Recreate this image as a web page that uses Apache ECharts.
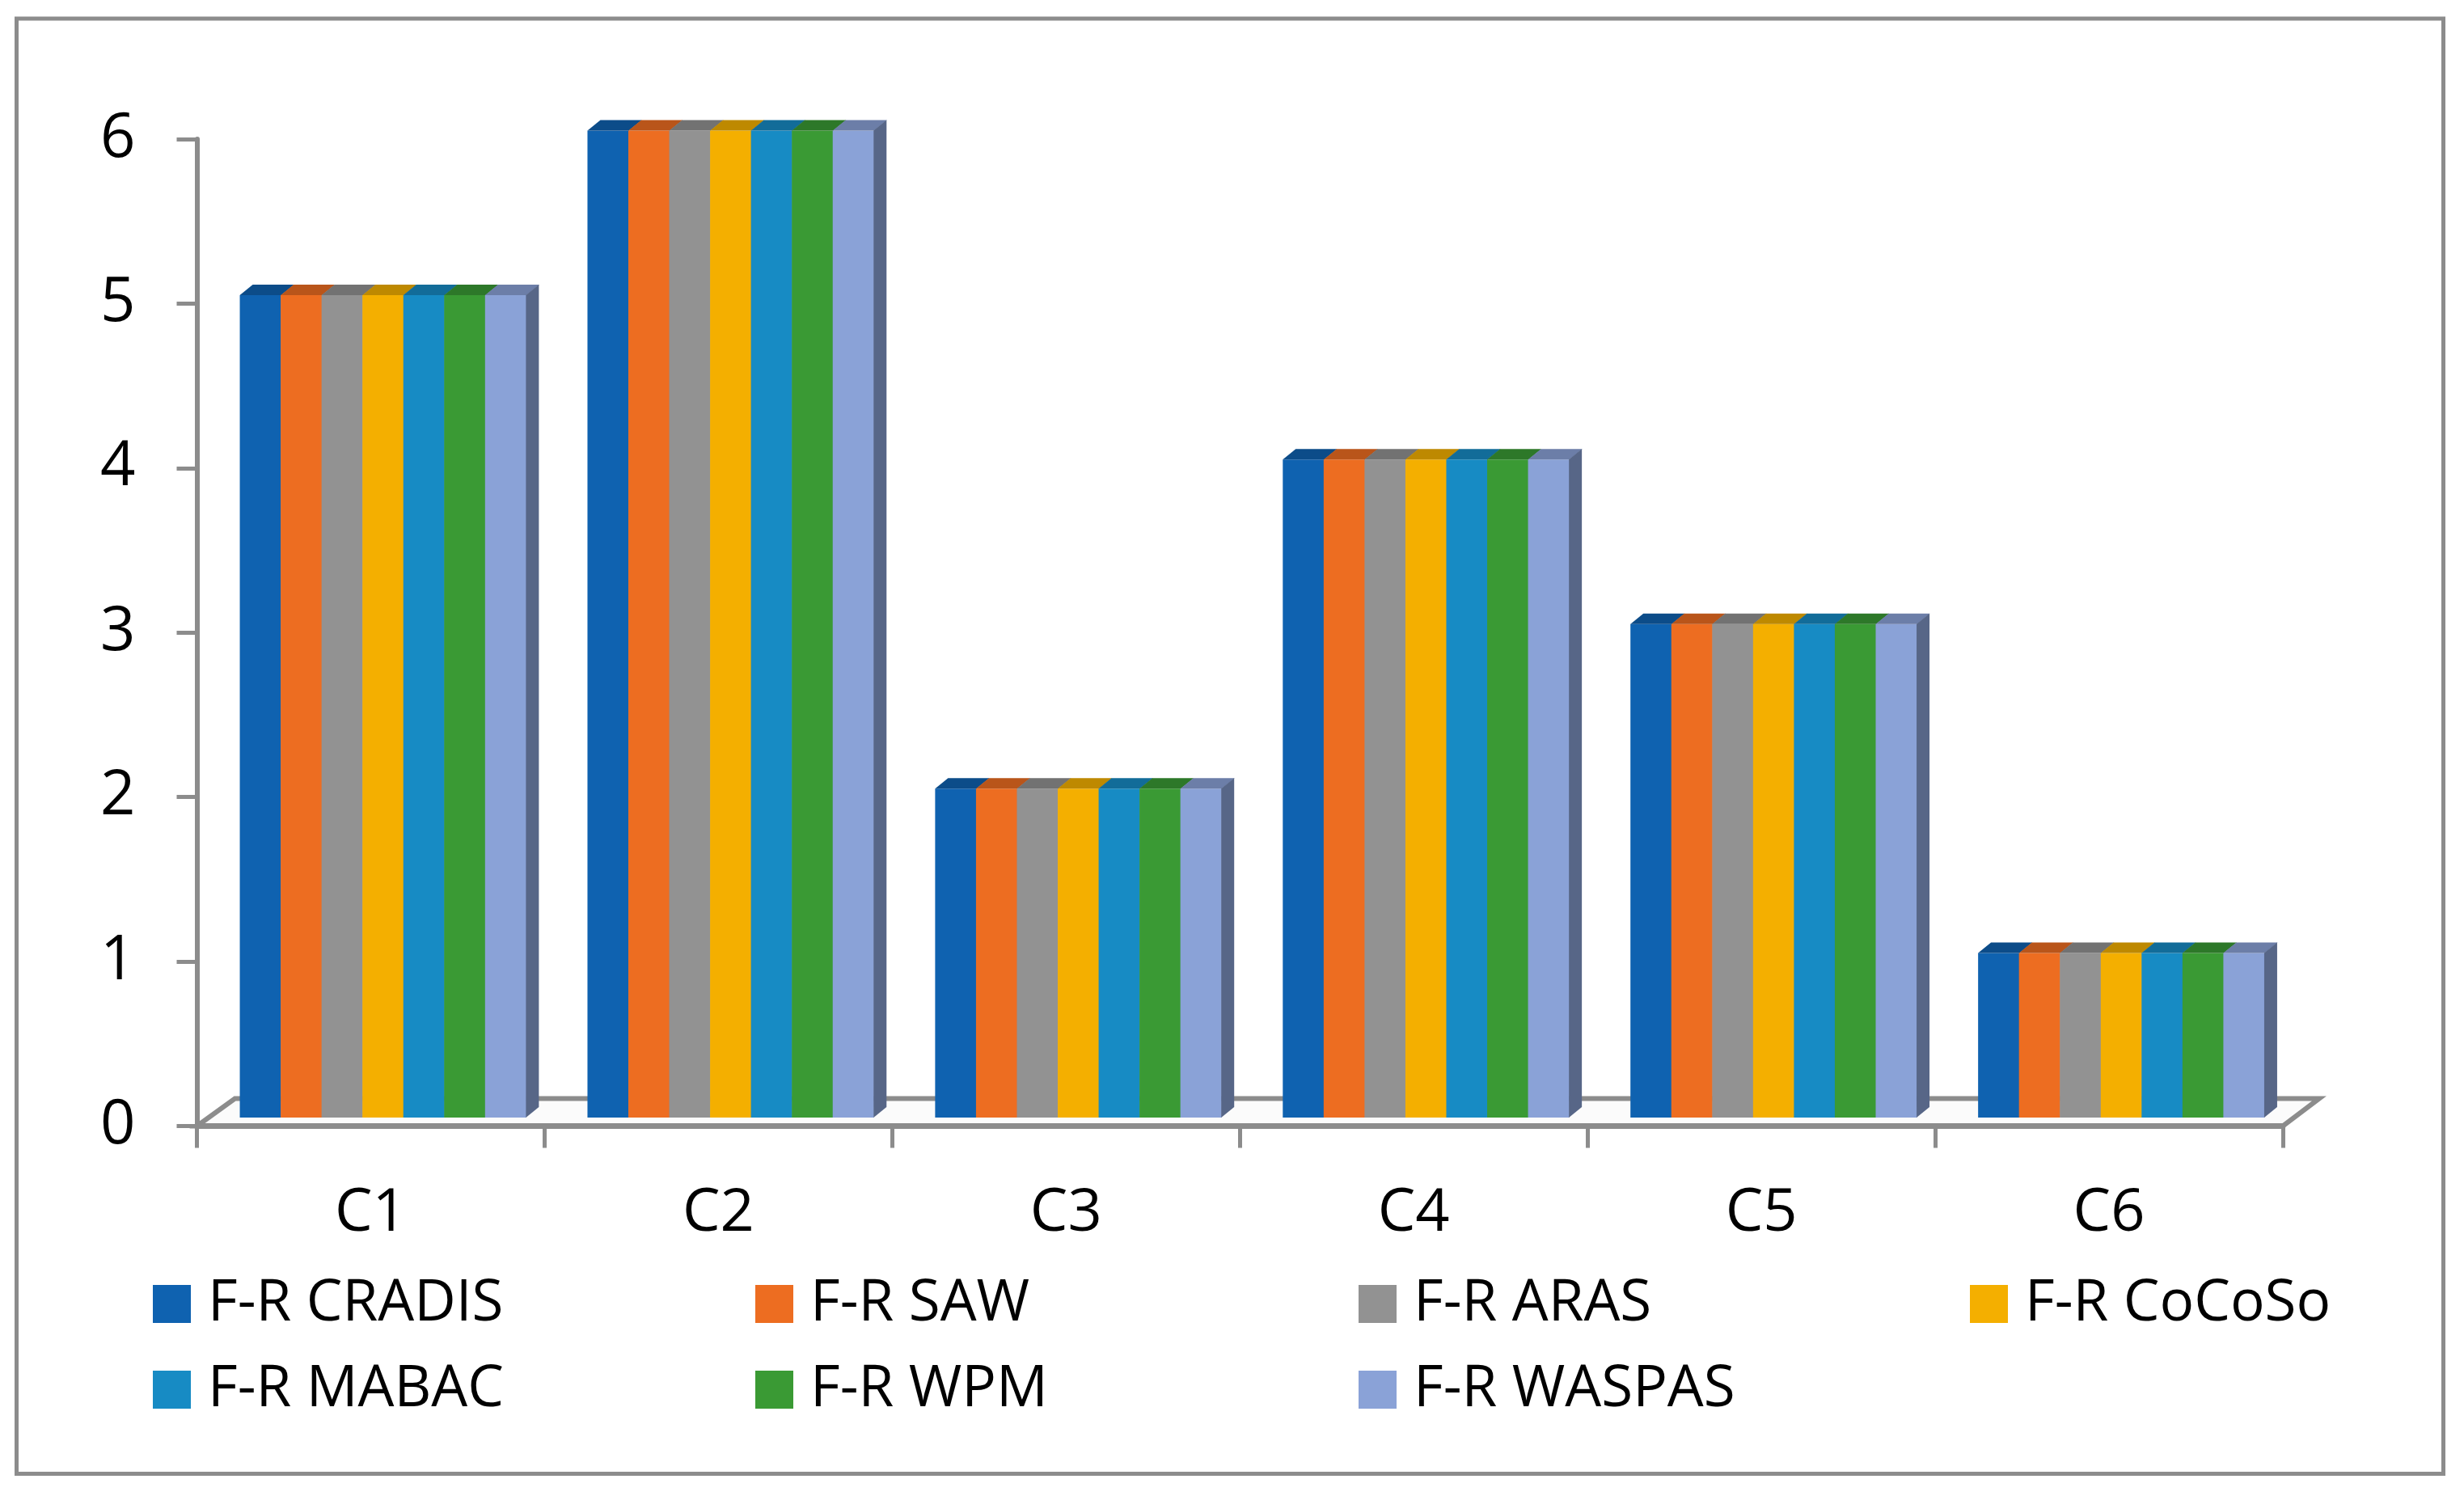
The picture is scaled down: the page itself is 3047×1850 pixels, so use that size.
<!DOCTYPE html>
<html>
<head>
<meta charset="utf-8">
<script src="https://cdn.jsdelivr.net/npm/echarts@6/dist/echarts.min.js"></script>
<style>
  html, body { margin: 0; padding: 0; background: #ffffff; }
  #chart { width: 3047px; height: 1850px; }
</style>
</head>
<body>
<div id="chart"></div>
<script>
// ---- data ----
const categories = ['C1', 'C2', 'C3', 'C4', 'C5', 'C6'];
const seriesNames = ['F-R CRADIS', 'F-R SAW', 'F-R ARAS', 'F-R CoCoSo', 'F-R MABAC', 'F-R WPM', 'F-R WASPAS'];
const cradis = [5, 6, 2, 4, 3, 1];
const saw    = [5, 6, 2, 4, 3, 1];
const aras   = [5, 6, 2, 4, 3, 1];
const cocoso = [5, 6, 2, 4, 3, 1];
const mabac  = [5, 6, 2, 4, 3, 1];
const wpm    = [5, 6, 2, 4, 3, 1];
const waspas = [5, 6, 2, 4, 3, 1];
const yTicks = [0, 1, 2, 3, 4, 5, 6];

const seriesValues = [cradis, saw, aras, cocoso, mabac, wpm, waspas];
const colors = ['#0F62B0', '#ED6D21', '#929292', '#F4AF00', '#178BC4', '#3A9A34', '#8AA2D7'];

// ---- styling constants ----
const AXIS_GRAY = '#8C8C8C';
const FONT = "'Open Sans', 'Noto Sans', sans-serif";
const GROUP_FRAC = 0.823;   // share of a category taken by the bar group
const FACE_DX = 15, FACE_DY = -10.5;  // front face shift (bars sit mid-depth)
const TOP_DX = 16, TOP_DY = -13;      // bar depth
const FLOOR_DX = 47, FLOOR_DY = -34;  // floor depth

function shade(hex, f) {
  const n = parseInt(hex.slice(1), 16);
  const r = Math.round(((n >> 16) & 255) * f);
  const g = Math.round(((n >> 8) & 255) * f);
  const b = Math.round((n & 255) * f);
  return 'rgb(' + r + ',' + g + ',' + b + ')';
}

function makeBarRender(sIdx, nSeries, color) {
  return function (params, api) {
    const ci = api.value(0);
    const base = api.coord([ci, 0]);
    const topPt = api.coord([ci, api.value(1)]);
    const catW = api.size([1, 0])[0];
    const groupW = catW * GROUP_FRAC;
    const barW = groupW / nSeries;
    const x0 = base[0] - groupW / 2 + sIdx * barW + FACE_DX;
    const x1 = x0 + barW;
    const yb = base[1] + FACE_DY;
    const yt = topPt[1] + FACE_DY;
    const children = [
      { type: 'rect', shape: { x: x0, y: yt, width: barW + 0.6, height: yb - yt },
        style: { fill: color } },
      { type: 'polygon', shape: { points: [[x0, yt], [x1 + 0.6, yt], [x1 + TOP_DX + 0.6, yt + TOP_DY], [x0 + TOP_DX, yt + TOP_DY]] },
        style: { fill: shade(color, 0.78) } }
    ];
    if (sIdx === nSeries - 1) {
      children.push({ type: 'polygon',
        shape: { points: [[x1, yt], [x1 + TOP_DX, yt + TOP_DY], [x1 + TOP_DX, yb + TOP_DY], [x1, yb]] },
        style: { fill: shade(color, 0.63) } });
    }
    return { type: 'group', children: children };
  };
}

function floorRender(params, api) {
  const catW = api.size([1, 0])[0];
  const first = api.coord([0, 0]);
  const last = api.coord([categories.length - 1, 0]);
  const left = first[0] - catW / 2;
  const right = last[0] + catW / 2;
  const y0 = first[1];
  return {
    type: 'polygon',
    shape: { points: [[left, y0], [left + FLOOR_DX, y0 + FLOOR_DY], [right + FLOOR_DX - 2, y0 + FLOOR_DY], [right, y0]] },
    style: { fill: '#FBFBFB', stroke: AXIS_GRAY, lineWidth: 6, lineJoin: 'miter' }
  };
}

const series = [{
  type: 'custom',
  name: 'floor',
  silent: true,
  z: 1,
  renderItem: floorRender,
  encode: { x: 0, y: 1 },
  data: [[0, 0]]
}];
seriesNames.forEach(function (name, s) {
  series.push({
    type: 'custom',
    name: name,
    z: 2,
    color: colors[s],
    renderItem: makeBarRender(s, seriesNames.length, colors[s]),
    encode: { x: 0, y: 1 },
    data: categories.map(function (c, i) { return [i, seriesValues[s][i]]; })
  });
});

// legend: 4 columns x 2 rows
const legendCols = [189, 934, 1680, 2436];
const legendRows = [1577, 1683];
const legends = seriesNames.map(function (name, s) {
  return {
    data: [{ name: name, icon: 'rect' }],
    left: legendCols[s % 4],
    top: legendRows[Math.floor(s / 4)],
    padding: 0,
    itemWidth: 47,
    itemHeight: 47,
    selectedMode: false,
    textStyle: { fontFamily: FONT, fontSize: 71, color: '#000', padding: [0, 0, 0, 16] }
  };
});

const chart = echarts.init(document.getElementById('chart'), null, { renderer: 'canvas' });
chart.setOption({
  backgroundColor: '#ffffff',
  animation: false,
  textStyle: { fontFamily: FONT },
  graphic: [{
    type: 'rect',
    shape: { x: 20.5, y: 23, width: 3001, height: 1799.5 },
    style: { fill: 'none', stroke: AXIS_GRAY, lineWidth: 5 },
    z: -10
  }],
  grid: { left: 243.5, right: 224, top: 172, bottom: 457.5, containLabel: false },
  xAxis: {
    type: 'category',
    data: categories,
    boundaryGap: true,
    axisLine: { show: true, lineStyle: { color: AXIS_GRAY, width: 7 } },
    axisTick: { show: true, alignWithLabel: false, length: 27, lineStyle: { color: AXIS_GRAY, width: 5 } },
    axisLabel: { fontFamily: FONT, fontSize: 74, color: '#000', margin: 71 },
    splitLine: { show: false },
    z: 3
  },
  yAxis: {
    type: 'value',
    min: yTicks[0],
    max: yTicks[yTicks.length - 1],
    interval: 1,
    axisLine: { show: true, lineStyle: { color: AXIS_GRAY, width: 6 } },
    axisTick: { show: true, length: 25, lineStyle: { color: AXIS_GRAY, width: 5 } },
    axisLabel: { fontFamily: FONT, fontSize: 76, color: '#000', margin: 76 },
    splitLine: { show: false }
  },
  legend: legends,
  series: series
});
</script>
</body>
</html>
